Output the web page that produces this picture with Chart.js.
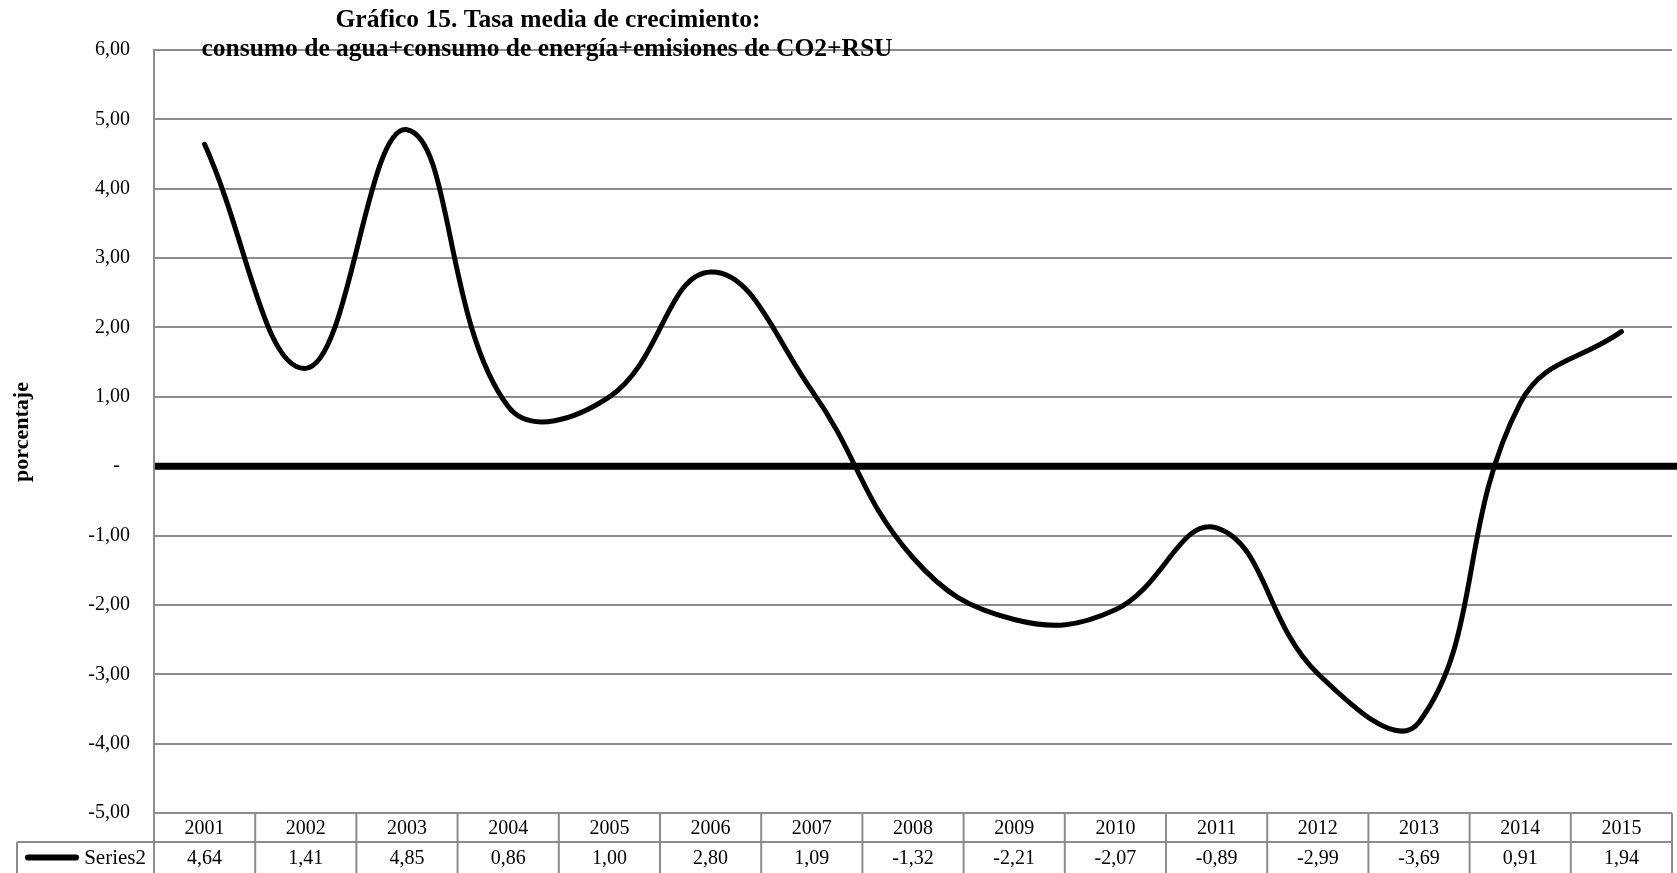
<!DOCTYPE html>
<html>
<head>
<meta charset="utf-8">
<script src="https://cdn.jsdelivr.net/npm/chart.js@4.4.1/dist/chart.umd.min.js"></script>
<style>
  html, body { margin: 0; padding: 0; background: #ffffff; }
  #wrap { width: 1677px; height: 873px; position: relative; }
</style>
</head>
<body>
<div id="wrap"><canvas id="c" width="1677" height="873"></canvas></div>
<script>
const years = ['2001','2002','2003','2004','2005','2006','2007','2008','2009','2010','2011','2012','2013','2014','2015'];
const series2 = [4.64, 1.41, 4.85, 0.86, 1.00, 2.80, 1.09, -1.32, -2.21, -2.07, -0.89, -2.99, -3.69, 0.91, 1.94];
const seriesName = 'Series2';
const yTickValues = [-5, -4, -3, -2, -1, 0, 1, 2, 3, 4, 5, 6];
const yTickLabels = ['-5,00', '-4,00', '-3,00', '-2,00', '-1,00', '-  ', '1,00', '2,00', '3,00', '4,00', '5,00', '6,00'];
const titleLines = ['Gráfico 15. Tasa media de crecimiento:', 'consumo de agua+consumo de energía+emisiones de CO2+RSU'];
const yAxisTitle = 'porcentaje';

const FONT = "'Liberation Serif', 'Times New Roman', serif";
const GRID = '#8c8c8c';

function fmt(v) { return v.toFixed(2).replace('.', ','); }

const overlay = {
  id: 'overlay',
  beforeDatasetsDraw(chart) {
    const ctx = chart.ctx, a = chart.chartArea, y = chart.scales.y;
    const y0 = y.getPixelForValue(0);
    ctx.save();
    ctx.strokeStyle = '#000';
    ctx.lineWidth = 7;
    ctx.beginPath();
    ctx.moveTo(a.left + 1, y0);
    ctx.lineTo(chart.width, y0);
    ctx.stroke();
    ctx.restore();
  },
  afterDraw(chart) {
    const ctx = chart.ctx, a = chart.chartArea, x = chart.scales.x;
    const n = years.length;
    const colW = (a.right - a.left) / n;
    const rowTop = a.bottom;
    const rowMid = a.bottom + 29;
    const rowBot = chart.height;
    ctx.save();
    ctx.strokeStyle = GRID;
    ctx.lineWidth = 2;
    ctx.beginPath();
    ctx.moveTo(17, rowMid); ctx.lineTo(a.right, rowMid);
    ctx.moveTo(17, rowMid); ctx.lineTo(17, rowBot);
    for (let i = 0; i <= n; i++) {
      const px = a.left + i * colW;
      ctx.moveTo(px, rowTop); ctx.lineTo(px, rowBot);
    }
    ctx.moveTo(a.left, rowTop); ctx.lineTo(a.right, rowTop);
    ctx.stroke();
    ctx.fillStyle = '#000';
    ctx.font = '20px ' + FONT;
    ctx.textAlign = 'center';
    ctx.textBaseline = 'middle';
    for (let i = 0; i < n; i++) {
      const cx = x.getPixelForValue(i);
      ctx.fillText(years[i], cx, (rowTop + rowMid) / 2 + 1);
      ctx.fillText(fmt(series2[i]), cx, (rowMid + rowBot) / 2 + 1);
    }
    const ly = (rowMid + rowBot) / 2;
    ctx.strokeStyle = '#000';
    ctx.lineWidth = 6;
    ctx.lineCap = 'round';
    ctx.beginPath();
    ctx.moveTo(28, ly); ctx.lineTo(76, ly);
    ctx.stroke();
    ctx.textAlign = 'right';
    ctx.font = '21px ' + FONT;
    ctx.fillText(seriesName, 146, ly + 1);
    ctx.textAlign = 'center';
    ctx.font = 'bold 25.5px ' + FONT;
    ctx.fillText(titleLines[0], 548, 20);
    ctx.fillText(titleLines[1], 547, 49);
    ctx.save();
    ctx.translate(22, 432);
    ctx.rotate(-Math.PI / 2);
    ctx.font = 'bold 22px ' + FONT;
    ctx.fillText(yAxisTitle, 0, 0);
    ctx.restore();
    ctx.restore();
  }
};

new Chart(document.getElementById('c'), {
  type: 'line',
  data: {
    labels: years,
    datasets: [{
      label: seriesName,
      data: series2,
      borderColor: '#000',
      borderWidth: 5,
      borderCapStyle: 'round',
      borderJoinStyle: 'round',
      tension: 0.42,
      pointRadius: 0,
      fill: false
    }]
  },
  options: {
    responsive: false,
    animation: false,
    layout: { padding: { left: 0, top: 50, right: 5, bottom: 60 } },
    plugins: { legend: { display: false }, title: { display: false }, tooltip: { enabled: false } },
    scales: {
      x: {
        type: 'category',
        offset: true,
        display: false,
        grid: { display: false }
      },
      y: {
        min: -5,
        max: 6,
        afterFit(scale) { scale.width = 154; },
        afterBuildTicks(scale) { scale.ticks = yTickValues.map(v => ({ value: v })); },
        ticks: {
          padding: 24,
          color: '#000',
          font: { family: FONT, size: 20 },
          callback: (v) => yTickLabels[yTickValues.indexOf(v)]
        },
        grid: {
          drawTicks: false,
          color: (c) => (c.tick && c.tick.value === 0) ? 'rgba(0,0,0,0)' : GRID,
          lineWidth: 2
        },
        border: { display: true, color: GRID, width: 2 }
      }
    }
  },
  plugins: [overlay]
});
</script>
</body>
</html>
